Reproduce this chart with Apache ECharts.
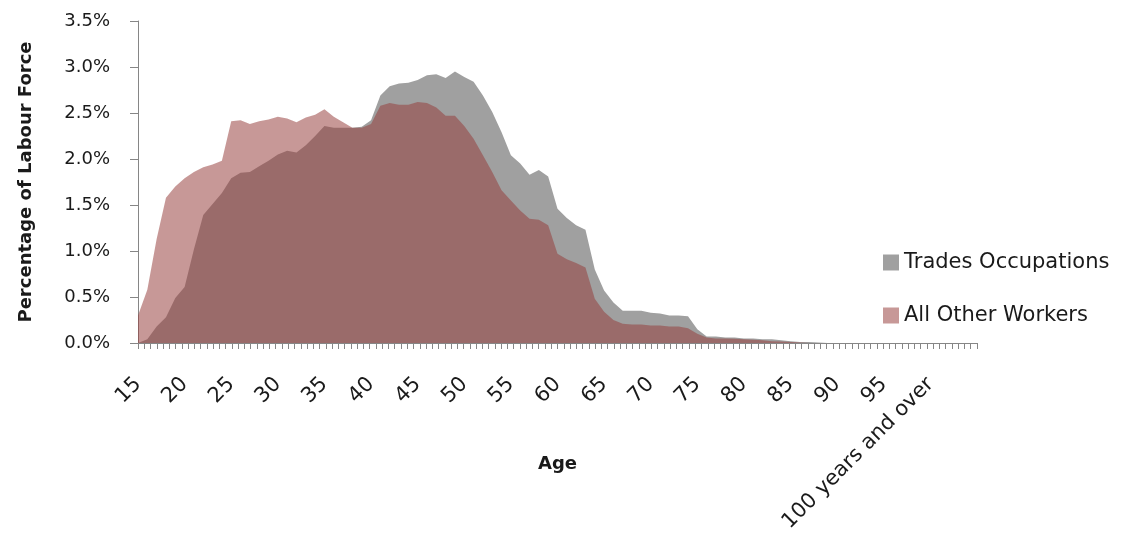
<!DOCTYPE html>
<html>
<head>
<meta charset="utf-8">
<script src="https://cdn.jsdelivr.net/npm/echarts@6/dist/echarts.min.js"></script>
<style>
html,body{margin:0;padding:0;background:#fff;}
#chart{width:1127px;height:536px;}
</style>
</head>
<body>
<div id="chart"></div>
<script>
// Categories: ages 15..99, "100 years and over", then blank padding categories
const ages = [];
for (let a = 15; a <= 99; a++) ages.push(String(a));
ages.push('100 years and over');
const padding = ['', '', '', '', ''];
const categories = ages.concat(padding);

// Percentage of labour force (%), ages 15 .. 100+
const tradesOccupations = [
  0.00, 0.04, 0.18, 0.28, 0.49, 0.61, 1.02, 1.39, 1.51, 1.63,
  1.79, 1.85, 1.86, 1.92, 1.98, 2.05, 2.09, 2.07, 2.15, 2.25,
  2.36, 2.34, 2.34, 2.34, 2.35, 2.42, 2.69, 2.79, 2.82, 2.83,
  2.86, 2.91, 2.92, 2.88, 2.95, 2.89, 2.84, 2.69, 2.51, 2.29,
  2.04, 1.95, 1.83, 1.88, 1.81, 1.46, 1.36, 1.28, 1.23, 0.80,
  0.57, 0.44, 0.35, 0.35, 0.35, 0.33, 0.32, 0.30, 0.30, 0.29,
  0.15, 0.07, 0.07, 0.06, 0.06, 0.05, 0.05, 0.04, 0.04, 0.03,
  0.02, 0.01, 0.01, 0.005, 0, 0, 0, 0, 0, 0,
  0, 0, 0, 0, 0, 0
];
const allOtherWorkers = [
  0.30, 0.58, 1.13, 1.58, 1.70, 1.79, 1.86, 1.91, 1.94, 1.98,
  2.41, 2.42, 2.38, 2.41, 2.43, 2.46, 2.44, 2.40, 2.45, 2.48,
  2.54, 2.46, 2.40, 2.34, 2.34, 2.38, 2.58, 2.61, 2.59, 2.59,
  2.62, 2.61, 2.56, 2.47, 2.47, 2.36, 2.22, 2.04, 1.86, 1.66,
  1.55, 1.44, 1.35, 1.34, 1.28, 0.97, 0.91, 0.87, 0.82, 0.48,
  0.34, 0.25, 0.21, 0.20, 0.20, 0.19, 0.19, 0.18, 0.18, 0.16,
  0.10, 0.06, 0.05, 0.05, 0.045, 0.04, 0.035, 0.03, 0.02, 0.015,
  0.01, 0.005, 0, 0, 0, 0, 0, 0, 0, 0,
  0, 0, 0, 0, 0, 0
];
const seriesNames = ['Trades Occupations', 'All Other Workers'];
const yTicks = [0, 0.5, 1.0, 1.5, 2.0, 2.5, 3.0, 3.5];

const FONT = 'DejaVu Sans';
const TEXT = '#1a1a1a';
const AXIS = '#868686';
const GRAY = '#a0a0a0';
const PINK = 'rgba(150,61,59,0.53)';

const chart = echarts.init(document.getElementById('chart'), null, {renderer: 'canvas'});
chart.setOption({
  backgroundColor: '#ffffff',
  animation: false,
  grid: {left: 138, right: 150, top: 21, bottom: 193, containLabel: false, outerBoundsMode: 'none'},
  legend: {
    orient: 'vertical',
    left: 883, top: 252,
    padding: 0,
    itemWidth: 16, itemHeight: 16, itemGap: 32,
    icon: 'rect',
    data: seriesNames,
    textStyle: {fontFamily: FONT, fontSize: 21, color: TEXT, lineHeight: 21}
  },
  xAxis: [{
    type: 'category',
    data: categories,
    boundaryGap: false,
    name: 'Age',
    nameLocation: 'middle',
    nameGap: 112,
    nameMoveOverlap: false,
    nameTextStyle: {fontFamily: FONT, fontSize: 18, fontWeight: 'bold', color: TEXT},
    axisLine: {show: true, lineStyle: {color: AXIS, width: 1}},
    axisTick: {show: false},
    axisLabel: {
      interval: 4, rotate: 45, margin: 38,
      fontFamily: FONT, fontSize: 21, color: TEXT
    },
    splitLine: {show: false}
  }, {
    type: 'value',
    position: 'bottom',
    min: 0, max: 134, interval: 1,
    axisLine: {show: false},
    axisTick: {show: true, length: 6, lineStyle: {color: AXIS, width: 1}},
    axisLabel: {show: false},
    splitLine: {show: false}
  }],
  yAxis: {
    type: 'value',
    min: yTicks[0], max: yTicks[yTicks.length - 1], interval: 0.5,
    name: 'Percentage of Labour Force',
    nameLocation: 'middle',
    nameGap: 103,
    nameMoveOverlap: false,
    nameTextStyle: {fontFamily: FONT, fontSize: 18, fontWeight: 'bold', color: TEXT},
    axisLine: {show: true, lineStyle: {color: AXIS, width: 1}},
    axisTick: {show: true, inside: false, length: 8, lineStyle: {color: AXIS}},
    axisLabel: {
      margin: 28, fontFamily: FONT, fontSize: 18, color: TEXT,
      formatter: v => v.toFixed(1) + '%'
    },
    splitLine: {show: false}
  },
  series: [{
    name: seriesNames[0],
    type: 'line',
    data: tradesOccupations,
    symbol: 'none',
    lineStyle: {width: 0, opacity: 0},
    itemStyle: {color: GRAY},
    areaStyle: {color: GRAY, opacity: 1},
    z: 2
  }, {
    name: seriesNames[1],
    type: 'line',
    data: allOtherWorkers,
    symbol: 'none',
    lineStyle: {width: 0, opacity: 0},
    itemStyle: {color: PINK},
    areaStyle: {color: PINK, opacity: 1},
    z: 3
  }]
});
</script>
</body>
</html>
